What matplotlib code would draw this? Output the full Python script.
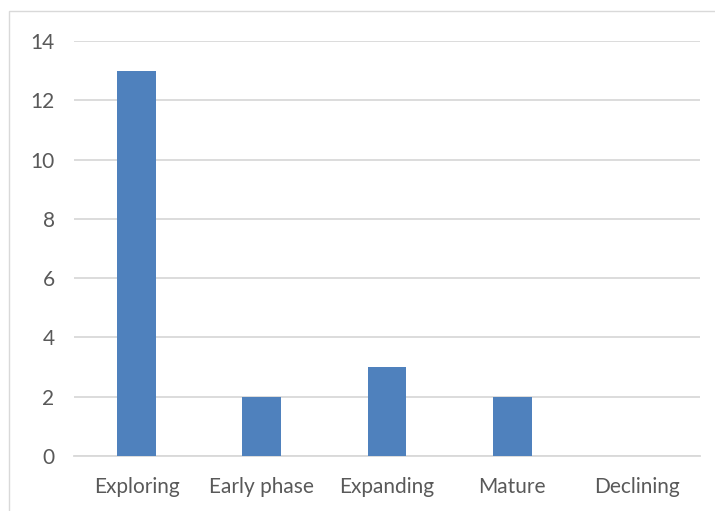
import matplotlib.pyplot as plt
from matplotlib.patches import Rectangle

# number of firms in each stage
stages = ['Exploring', 'Early phase', 'Expanding', 'Mature', 'Declining']
counts = [13, 2, 3, 2, 0]

plt.rcParams['font.family'] = ['Lato', 'DejaVu Sans']

fig = plt.figure(figsize=(7.15, 5.11), dpi=100)
ax = fig.add_axes([74 / 715, 1 - 456 / 511, 626 / 715, 415 / 511])

x = range(len(stages))
ax.bar(x, counts, width=0.31, color='#4F81BD', zorder=3)

ax.set_xlim(-0.5, len(stages) - 0.5)
ax.set_ylim(0, 14)
ax.set_yticks(range(0, 15, 2))
ax.set_xticks(list(x))
ax.set_xticklabels(stages)

ax.grid(axis='y', color='#D9D9D9', lw=1.3, zorder=0)
for s in ['top', 'right', 'left']:
    ax.spines[s].set_visible(False)
ax.spines['bottom'].set_color('#D9D9D9')
ax.spines['bottom'].set_linewidth(1.3)
ax.tick_params(axis='both', length=0, labelsize=15, colors='#595959')
ax.tick_params(axis='y', pad=14)
ax.tick_params(axis='x', pad=15)

# chart area border
fig.patches.append(Rectangle((9 / 715, -0.1), 1.0, 1.1 - 11 / 511,
                             transform=fig.transFigure, fill=False,
                             edgecolor='#D9D9D9', lw=1.0))

fig.savefig('out.png', dpi=100)
